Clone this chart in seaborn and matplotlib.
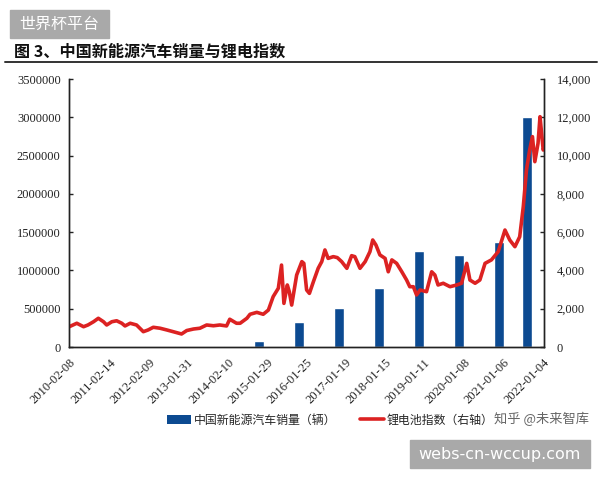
import numpy as np
import pandas as pd
import matplotlib
matplotlib.use('Agg')
import matplotlib.pyplot as plt
import seaborn as sns
from matplotlib.patches import Patch, Rectangle
from matplotlib.lines import Line2D
from matplotlib.ticker import StrMethodFormatter, MultipleLocator

sns.set_theme(style='white')
plt.rcParams['font.family'] = ['Noto Sans CJK SC', 'DejaVu Sans']

# ---------------- data ----------------
title = '图 3、中国新能源汽车销量与锂电指数'
bar_label = '中国新能源汽车销量（辆）'
line_label = '锂电池指数（右轴）'
watermark_top = '世界杯平台'
watermark_bottom = 'webs-cn-wccup.com'
watermark_legend = '知乎 @未来智库'

tick_dates = ['2010-02-08', '2011-02-14', '2012-02-09', '2013-01-31', '2014-02-10',
              '2015-01-29', '2016-01-25', '2017-01-19', '2018-01-15', '2019-01-11',
              '2020-01-08', '2021-01-06', '2022-01-04']

# annual NEV sales, drawn at the (decimal-year) position where each bar sits
bar_years = [2011, 2012, 2013, 2014, 2015, 2016, 2017, 2018, 2019, 2020, 2021]
bar_time = [2011.89, 2012.89, 2013.87, 2014.87, 2015.88, 2016.88, 2017.89,
            2018.89, 2019.89, 2020.90, 2021.60]
bar_sales = [8159, 12791, 17642, 74763, 331092, 507000, 777000,
             1256000, 1206000, 1367000, 3000000]

# lithium battery index (right axis), decimal year vs index level
line_t = [2010.11, 2010.30, 2010.47, 2010.58, 2010.72, 2010.84, 2010.97, 2011.05,
          2011.18, 2011.30, 2011.43, 2011.51, 2011.64, 2011.80, 2011.97, 2012.09,
          2012.22, 2012.39, 2012.56, 2012.72, 2012.93, 2013.06, 2013.23, 2013.39,
          2013.56, 2013.73, 2013.89, 2014.06, 2014.14, 2014.31, 2014.40, 2014.57,
          2014.65, 2014.82, 2014.98, 2015.11, 2015.23, 2015.36, 2015.44, 2015.50,
          2015.585, 2015.635, 2015.695, 2015.82, 2015.95, 2016.00, 2016.07, 2016.14,
          2016.24, 2016.36, 2016.45, 2016.53, 2016.61, 2016.74, 2016.84, 2016.95,
          2017.08, 2017.20, 2017.28, 2017.41, 2017.54, 2017.66, 2017.73, 2017.81,
          2017.91, 2018.04, 2018.12, 2018.21, 2018.33, 2018.46, 2018.58, 2018.66,
          2018.75, 2018.83, 2018.92, 2019.08, 2019.21, 2019.29, 2019.37, 2019.50,
          2019.67, 2019.84, 2019.96, 2020.09, 2020.17, 2020.30, 2020.42, 2020.55,
          2020.71, 2020.88, 2021.05, 2021.17, 2021.30, 2021.42, 2021.51, 2021.59,
          2021.67, 2021.74, 2021.80, 2021.88, 2021.93, 2021.97, 2022.01, 2022.03]
line_v = [1060, 1240, 1060, 1150, 1320, 1500, 1320, 1150,
          1320, 1370, 1240, 1100, 1240, 1150, 800, 890,
          1030, 980, 890, 800, 680, 860, 940, 980,
          1150, 1110, 1150, 1100, 1450, 1240, 1240, 1500,
          1710, 1810, 1710, 1930, 2630, 3070, 4280, 2280,
          3240, 2890, 2190, 3760, 4460, 4370, 2980, 2800,
          3410, 4110, 4460, 5070, 4630, 4720, 4670, 4460,
          4110, 4770, 4720, 4110, 4460, 4980, 5590, 5330,
          4810, 4630, 3930, 4550, 4370, 3930, 3500, 3150,
          3150, 2720, 2980, 2890, 3930, 3760, 3240, 3330,
          3150, 3240, 3330, 4370, 3500, 3330, 3500, 4370,
          4550, 4980, 6110, 5590, 5240, 5760, 7330, 9250,
          10290, 10990, 9680, 10640, 12030, 11160, 10290, 10400]

# ---------------- styling ----------------
BLUE = '#0c4a91'
RED = '#dc2222'
GREY_BOX = '#a9a9a9'
W, H = 600, 480


def fx(px):
    return px / W


def fy(py):
    return 1 - py / H


def to_decimal_year(s):
    d = pd.Timestamp(s)
    return d.year + (d.dayofyear - 1) / 365.25


fig = plt.figure(figsize=(6, 4.8), dpi=100)
fig.patch.set_facecolor('white')
ax = fig.add_axes([fx(69), fy(347), fx(544) - fx(69), fy(79) - fy(347)])
ax2 = ax.twinx()

ax.bar(bar_time, bar_sales, width=0.25, color=BLUE, zorder=2)
df_line = pd.DataFrame({'t': line_t, 'v': line_v})
sns.lineplot(data=df_line, x='t', y='v', ax=ax2, color=RED, lw=2.6,
             estimator=None, sort=False, legend=False)

tick_pos = [to_decimal_year(s) for s in tick_dates]
ax.set_xlim(tick_pos[0], 2022.03)
ax.set_ylim(0, 3500000)
ax2.set_ylim(0, 14000)
ax.yaxis.set_major_locator(MultipleLocator(500000))
ax2.yaxis.set_major_locator(MultipleLocator(2000))
ax.yaxis.set_major_formatter(StrMethodFormatter('{x:.0f}'))
ax2.yaxis.set_major_formatter(StrMethodFormatter('{x:,.0f}'))
ax.set_xticks(tick_pos)
ax.set_xticklabels(tick_dates, rotation=45, ha='right', va='top',
                   rotation_mode='anchor')
for a in (ax, ax2):
    a.set_xlabel('')
    a.set_ylabel('')
    a.set_facecolor('none')
    a.grid(False)
    a.spines['top'].set_visible(False)
    for side in ('left', 'right', 'bottom'):
        a.spines[side].set_color('#222222')
        a.spines[side].set_linewidth(1.0)

ax.tick_params(axis='y', direction='in', length=3, width=1, color='#222222',
               labelsize=9, labelcolor='#222222', pad=6,
               labelfontfamily='Liberation Serif', left=True)
ax2.tick_params(axis='y', direction='in', length=3, width=1, color='#222222',
                labelsize=9, labelcolor='#222222', pad=9,
                labelfontfamily='Liberation Serif', right=True)
ax.tick_params(axis='x', length=0, labelsize=9, labelcolor='#222222', pad=7,
               labelfontfamily='Liberation Serif')

# title and rule
fig.text(fx(14), fy(52), title, fontsize=11.6, fontweight='bold',
         color='#111111', ha='left', va='center')
fig.add_artist(Line2D([fx(5), fx(597)], [fy(62), fy(62)], color='#333333',
                      lw=1.4, transform=fig.transFigure))

# legend
handles = [Patch(facecolor=BLUE, edgecolor='none', label=bar_label),
           Line2D([0], [0], color=RED, lw=2.6, label=line_label)]
fig.legend(handles=handles, loc='center left', bbox_to_anchor=(fx(162), fy(420)),
           ncol=2, frameon=False, fontsize=8.6, handlelength=2.0,
           handletextpad=0.25, columnspacing=2.0, borderaxespad=0)

# watermarks
fig.add_artist(Rectangle((fx(10), fy(38)), fx(109) - fx(10), fy(10) - fy(38),
                         transform=fig.transFigure, color=GREY_BOX, zorder=5))
fig.text(fx(59.5), fy(24), watermark_top, fontsize=11.5, color='white',
         ha='center', va='center', zorder=6)
fig.add_artist(Rectangle((fx(410), fy(468)), fx(590) - fx(410), fy(440) - fy(468),
                         transform=fig.transFigure, color=GREY_BOX, zorder=5))
fig.text(fx(500), fy(454), watermark_bottom, fontsize=11.5, color='white',
         ha='center', va='center', zorder=6, family=['DejaVu Sans'])
fig.text(fx(589), fy(419), watermark_legend, fontsize=9.5, color='#666666',
         ha='right', va='center', zorder=7)

fig.savefig('out.png', dpi=100, facecolor='white')
